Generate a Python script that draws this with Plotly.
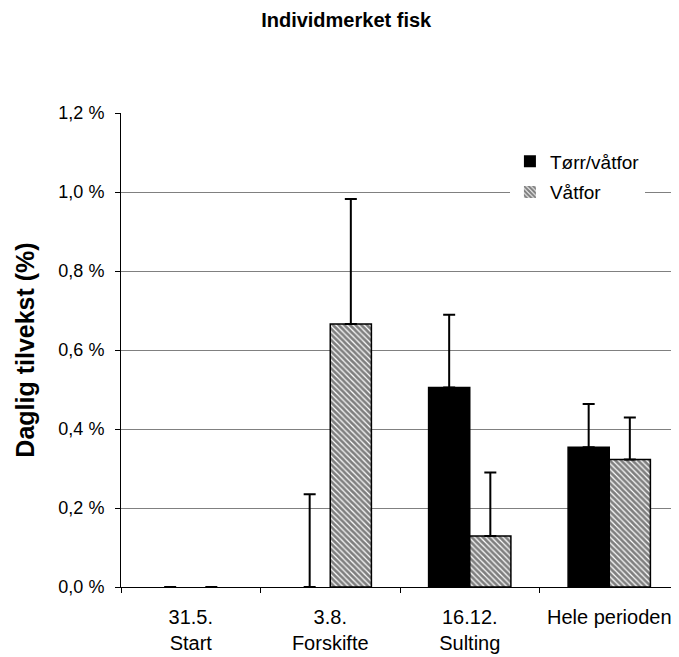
import plotly.graph_objects as go

categories = ["31.5.<br>Start", "3.8.<br>Forskifte", "16.12.<br>Sulting", "Hele perioden"]
torr_values = [0.0, 0.0, 0.505, 0.354]
torr_errors = [0.0, 0.235, 0.184, 0.109]
vat_values = [0.0, 0.666, 0.129, 0.323]
vat_errors = [0.0, 0.316, 0.161, 0.106]
zeros = [0, 0, 0, 0]

FONT = "Liberation Sans, Arial, sans-serif"


def outline_widths(values):
    # no outline on zero-height bars (Excel draws nothing there)
    return [0 if v == 0 else 1.5 for v in values]


fig = go.Figure()
fig.add_trace(go.Bar(
    name="Tørr/våtfor", x=categories, y=torr_values, legendgroup="a",
    marker=dict(color="black", line=dict(color="black", width=outline_widths(torr_values))),
    error_y=dict(type="data", symmetric=False, array=torr_errors, arrayminus=zeros,
                 color="black", thickness=2, width=6),
))
fig.add_trace(go.Bar(
    name="Våtfor", x=categories, y=vat_values, legendgroup="b",
    marker=dict(color="white", line=dict(color="black", width=outline_widths(vat_values)),
                pattern=dict(shape="\\", fgcolor="black", bgcolor="white", size=4, solidity=0.7)),
    error_y=dict(type="data", symmetric=False, array=vat_errors, arrayminus=zeros,
                 color="black", thickness=2, width=6),
))

fig.update_layout(
    width=671, height=649,
    paper_bgcolor="white", plot_bgcolor="white",
    margin=dict(l=113, r=0, t=105, b=70),
    font=dict(family=FONT, size=18, color="black"),
    separators=",.",
    title=dict(text="<b>Individmerket fisk</b>", x=0.504, xref="container", xanchor="center",
               y=1 - 12 / 649, yref="container", yanchor="middle",
               font=dict(family=FONT, size=20, color="black")),
    barmode="group", bargap=0.41, bargroupgap=0,
    legend=dict(x=0.697, y=0.938, xanchor="left", yanchor="top", bgcolor="white",
                font=dict(family=FONT, size=19), tracegroupgap=3, itemwidth=30),
    showlegend=True,
)
fig.update_xaxes(
    showline=True, linecolor="black", linewidth=1, ticks="outside", ticklen=5,
    tickson="boundaries", tickcolor="black", showgrid=False,
    tickfont=dict(family=FONT, size=20), ticklabelstandoff=12,
)
fig.update_yaxes(
    range=[0, 1.2], dtick=0.2, tick0=0, tickformat=".1f", ticksuffix=" %",
    showline=True, linecolor="black", linewidth=1, ticks="outside", ticklen=5, tickcolor="black",
    showgrid=True, gridcolor="#808080", gridwidth=1, zeroline=False,
    tickfont=dict(family=FONT, size=18), ticklabelstandoff=7,
    title=dict(text="<b>Daglig tilvekst (%)</b>", font=dict(family=FONT, size=25), standoff=16),
)

fig.write_html("out.html")
